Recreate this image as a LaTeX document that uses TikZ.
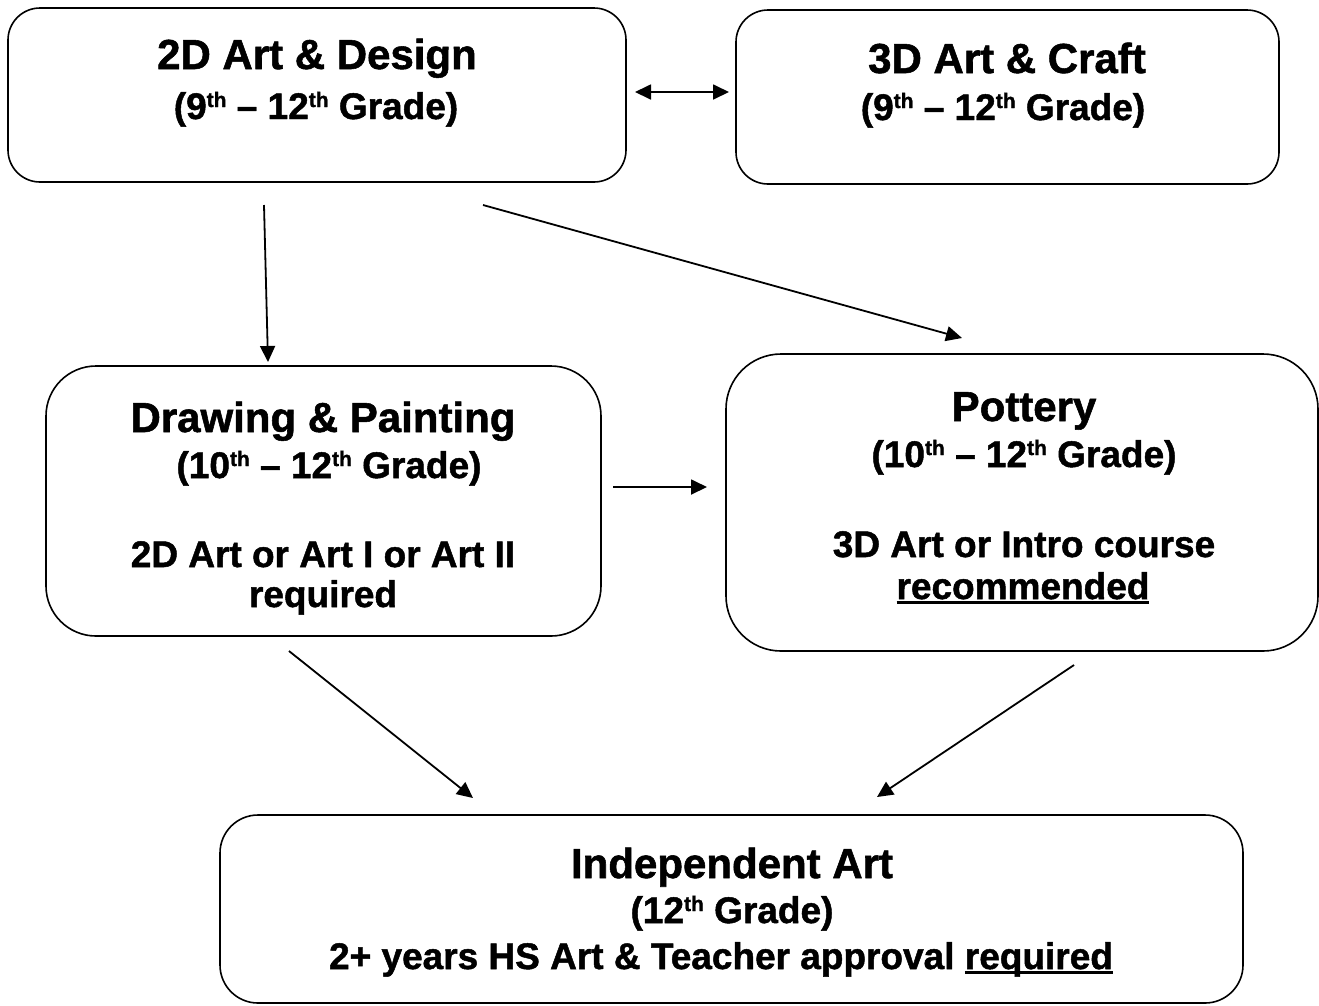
\documentclass[tikz,border=0pt]{standalone}
\usepackage{fontspec}
\setmainfont{Liberation Sans}[BoldFeatures={FakeBold=1.3}]
\usetikzlibrary{arrows.meta}
\newcommand\myul[1]{\setbox0\hbox{#1}\rlap{\rule[-5pt]{\wd0}{2.6pt}}\box0}
\newcommand\sth{\raisebox{12pt}{\fontsize{21}{21}\selectfont th}}
\tikzset{
  mytip/.tip={Triangle[length=16pt,width=15pt]},
  box/.style={draw, line width=1.6pt, rectangle, inner sep=0pt},
  big/.style={anchor=base, inner sep=0pt, font=\bfseries\fontsize{42}{48}\selectfont},
  small/.style={anchor=base, inner sep=0pt, font=\bfseries\fontsize{37}{44}\selectfont},
  conn/.style={line width=1.8pt, -{mytip}},
}
\begin{document}
\begin{tikzpicture}[x=1pt,y=-1pt]
\useasboundingbox (0,0) rectangle (1319,1005);
% boxes
\node[box, rounded corners=32pt, minimum width=618pt, minimum height=174pt] (A) at (317,95) {};
\node[box, rounded corners=32pt, minimum width=543pt, minimum height=174pt] (B) at (1007.5,97) {};
\node[box, rounded corners=50pt, minimum width=555pt, minimum height=270pt] (C) at (323.5,501) {};
\node[box, rounded corners=55pt, minimum width=592pt, minimum height=297pt] (D) at (1022,502.5) {};
\node[box, rounded corners=38pt, minimum width=1023pt, minimum height=188pt] (E) at (731.5,909) {};
% texts
\node[big] (a1) at (317,69) {2D Art \& Design};
\node[small] (a2) at (316,119) {(9\sth{} – 12\sth{} Grade)};
\node[big] (b1) at (1007,73) {3D Art \& Craft};
\node[small] (b2) at (1003,120) {(9\sth{} – 12\sth{} Grade)};
\node[big] (c1) at (323,432) {Drawing \& Painting};
\node[small] (c2) at (329,478) {(10\sth{} – 12\sth{} Grade)};
\node[small] (c3) at (323,567) {2D Art or Art I or Art II};
\node[small] (c4) at (323,607) {required};
\node[big] (d1) at (1024,421) {Pottery};
\node[small] (d2) at (1024,467) {(10\sth{} – 12\sth{} Grade)};
\node[small] (d3) at (1024,557) {3D Art or Intro course};
\node[small] (d4) at (1023,599) {\myul{recommended}};
\node[big] (e1) at (732,878) {Independent Art};
\node[small] (e2) at (732,923) {(12\sth{} Grade)};
\node[small] (e3) at (721,969) {2+ years HS Art \& Teacher approval \myul{required}};
% connector end points
\coordinate (ab1) at (635,92);
\coordinate (ab2) at (729,92);
\coordinate (ac1) at (264,205);
\coordinate (ac2) at (268,362);
\coordinate (ad1) at (483,205);
\coordinate (ad2) at (962,338);
\coordinate (cd1) at (613,487);
\coordinate (cd2) at (707,487);
\coordinate (ce1) at (289,651);
\coordinate (ce2) at (473,798);
\coordinate (de1) at (1074,665);
\coordinate (de2) at (877,797);
% connectors
\draw[conn, {mytip}-{mytip}] (ab1) -- (ab2);
\draw[conn] (ac1) -- (ac2);
\draw[conn] (ad1) -- (ad2);
\draw[conn] (cd1) -- (cd2);
\draw[conn] (ce1) -- (ce2);
\draw[conn] (de1) -- (de2);
\end{tikzpicture}
\end{document}
